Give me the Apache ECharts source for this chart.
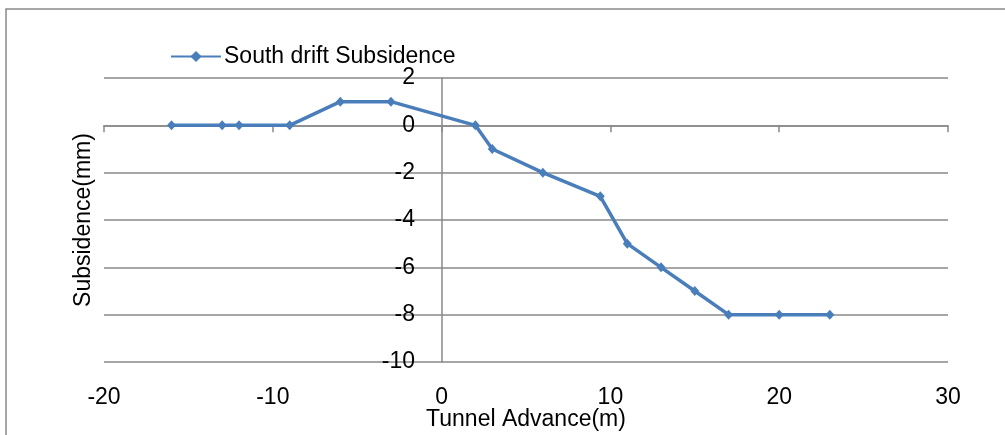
<!DOCTYPE html>
<html>
<head>
<meta charset="utf-8">
<script src="https://cdn.jsdelivr.net/npm/echarts@6/dist/echarts.min.js"></script>
<style>
  html, body { margin: 0; padding: 0; background: #fff; }
  #chart { width: 1005px; height: 435px; }
</style>
</head>
<body>
<div id="chart"></div>
<script>
// tunnel advance (m) and measured subsidence (mm)
const advance = [-16, -13, -12, -9, -6, -3, 2, 3, 6, 9.4, 11, 13, 15, 17, 20, 23];
const subsidence = [0, 0, 0, 0, 1, 1, 0, -1, -2, -3, -5, -6, -7, -8, -8, -8];
const seriesName = 'South drift Subsidence';
const xTicks = { min: -20, max: 30, interval: 10 };
const yTicks = { min: -10, max: 2, interval: 2 };

(function () {
  const chart = echarts.init(document.getElementById('chart'));
  const font = 'Liberation Sans, Arial, sans-serif';
  const gray = '#898989';

  const option = {
    animation: false,
    textStyle: { fontFamily: font, color: '#000' },
    graphic: [
      {
        type: 'rect',
        shape: { x: 6, y: 9, width: 1100, height: 500 },
        style: { fill: 'none', stroke: gray, lineWidth: 1.5 }
      }
    ],
    legend: {
      left: 165,
      top: 40,
      itemWidth: 50,
      itemHeight: 14,
      itemGap: 7,
      data: [seriesName],
      textStyle: { fontFamily: font, fontSize: 23, color: '#000', padding: [0, 0, 0, -2] }
    },
    grid: { left: 104, right: 57, top: 78, bottom: 73, containLabel: false, outerBoundsMode: 'none' },
    xAxis: [
      {
        type: 'value',
        min: xTicks.min, max: xTicks.max, interval: xTicks.interval,
        axisLine: { show: true, onZero: true, lineStyle: { color: gray, width: 1.5 } },
        axisTick: { show: true, length: 7, lineStyle: { color: gray, width: 1.5 } },
        axisLabel: { show: false },
        splitLine: { show: false }
      },
      {
        type: 'value',
        position: 'bottom',
        min: xTicks.min, max: xTicks.max, interval: xTicks.interval,
        name: 'Tunnel Advance(m)',
        nameLocation: 'middle',
        nameGap: 46,
        nameMoveOverlap: false,
        nameTextStyle: { fontFamily: font, fontSize: 23, color: '#000' },
        axisLine: { show: false, onZero: false },
        axisTick: { show: false },
        axisLabel: { margin: 24, fontFamily: font, fontSize: 23, color: '#000' },
        splitLine: { show: false }
      }
    ],
    yAxis: {
      type: 'value',
      min: yTicks.min, max: yTicks.max, interval: yTicks.interval,
      name: 'Subsidence(mm)',
      nameLocation: 'middle',
      nameGap: 9,
      nameMoveOverlap: false,
      nameTextStyle: { fontFamily: font, fontSize: 23, color: '#000' },
      axisLine: { show: true, onZero: true, lineStyle: { color: gray, width: 1.5 } },
      axisTick: { show: false },
      // labels sit beside the axis line at x = 0, not at the grid edge
      axisLabel: { margin: -311, fontFamily: font, fontSize: 23, color: '#000' },
      splitLine: { show: true, lineStyle: { color: gray, width: 1.5 } }
    },
    series: [
      {
        name: seriesName,
        type: 'line',
        xAxisIndex: 0,
        data: advance.map((x, i) => [x, subsidence[i]]),
        symbol: 'diamond',
        symbolSize: [9, 10],
        lineStyle: { color: '#4a7ebb', width: 3.5 },
        itemStyle: { color: '#4a7ebb' }
      }
    ]
  };

  chart.setOption(option);
  window.addEventListener('resize', () => chart.resize());
})();
</script>
</body>
</html>
